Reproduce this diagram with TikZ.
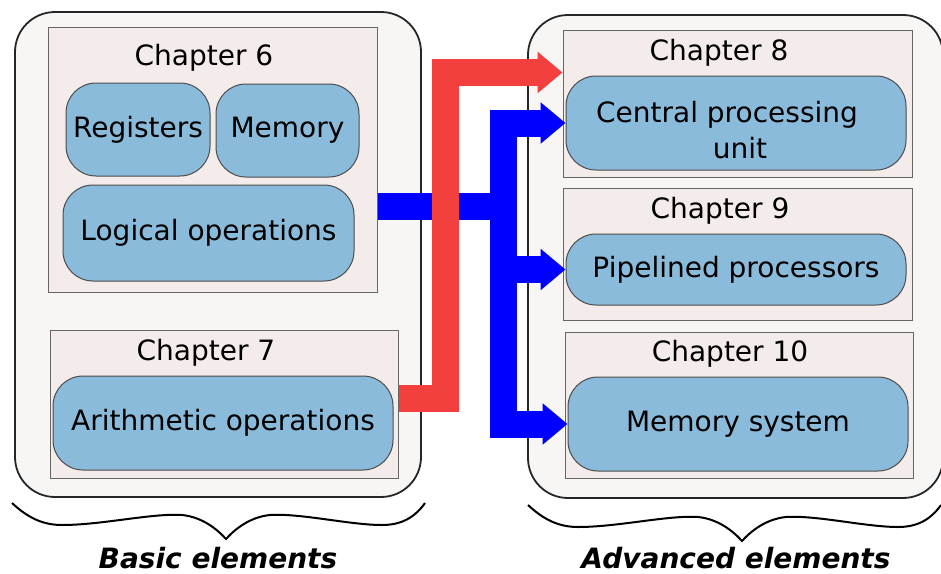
\documentclass[tikz,border=0pt]{standalone}
\usepackage{fontspec}
\setmainfont{DejaVu Sans}
\usetikzlibrary{arrows.meta}
\definecolor{outerfill}{HTML}{F7F6F5}
\definecolor{chapfill}{HTML}{F4ECEB}
\definecolor{topicblue}{HTML}{8BBBDA}
\definecolor{linkred}{HTML}{F43F3F}
\definecolor{linkblue}{HTML}{0000FF}
\tikzset{
  boxsize/.style 2 args={minimum width={(#1)*0.5pt}, minimum height={(#2)*0.5pt}},
  outerbox/.style={draw=black!85, line width=0.9pt, fill=outerfill,
    rounded corners=20pt, inner sep=0pt},
  chapbox/.style={draw=black!60, line width=0.5pt, fill=chapfill, inner sep=0pt},
  topic/.style={draw=black!70, line width=0.5pt, fill=topicblue,
    rounded corners=15pt, inner sep=0pt, align=center,
    font=\fontsize{14}{18}\selectfont},
  chaplabel/.style={anchor=base, inner sep=0pt, font=\fontsize{14}{18}\selectfont},
  grouplabel/.style={anchor=base, inner sep=0pt,
    font=\fontsize{14}{18}\selectfont\bfseries\itshape},
  redlink/.style={draw=linkred, line width=13.5pt,
    -{Triangle[length=12.5pt,width=20pt]}},
  bluebar/.style={draw=linkblue, line width=13.5pt},
  bluelink/.style={bluebar, -{Triangle[length=12.5pt,width=20pt]}},
  curlybrace/.pic={
    \draw[line width=1pt] (0,0) .. controls (15,14) and (30,22) .. (50,22)
      .. controls (90,22) and (140,10) .. (170,12)
      .. controls (190,14) and (205,26) .. (214,36)
      .. controls (223,26) and (238,14) .. (258,12)
      .. controls (288,10) and (338,22) .. (370,22)
      .. controls (390,22) and (403,14) .. (413,0);
  },
}

\begin{document}
\begin{tikzpicture}[x=0.5pt,y=-0.5pt]
\useasboundingbox (0,0) rectangle (941,573);
% groups
\node[outerbox, boxsize={406}{485}] (basic) at (218,254.5) {};
\node[outerbox, boxsize={415}{483}] (advanced) at (735.5,256.5) {};
% chapters
\node[chapbox, boxsize={329}{265}] (ch6) at (212.5,159.5) {};
\node[chapbox, boxsize={348}{148}] (ch7) at (224,404) {};
\node[chapbox, boxsize={349}{147}] (ch8) at (737.5,103.5) {};
\node[chapbox, boxsize={349}{132}] (ch9) at (737.5,254) {};
\node[chapbox, boxsize={348}{146}] (ch10) at (739,405) {};
\node[chaplabel] (ch6lbl) at (204,65) {Chapter 6};
\node[chaplabel] (ch7lbl) at (206,360) {Chapter 7};
\node[chaplabel] (ch8lbl) at (719,60) {Chapter 8};
\node[chaplabel] (ch9lbl) at (720,218) {Chapter 9};
\node[chaplabel] (ch10lbl) at (730,361) {Chapter 10};
% topics
\node[topic, boxsize={144}{93}] (reg) at (138,129.5) {Registers};
\node[topic, boxsize={143}{93}] (mem) at (287.5,130.5) {Memory};
\node[topic, boxsize={291}{96}] (logic) at (208.5,233) {Logical operations};
\node[topic, boxsize={340}{94}] (arith) at (223,423) {Arithmetic operations};
\node[topic, boxsize={340}{94}] (cpu) at (736,123)
  {\rule{0pt}{18pt}Central processing\hspace*{9pt}\\\hspace*{4pt}unit};
\node[topic, boxsize={340}{71}] (pipe) at (736,269.5) {Pipelined processors};
\node[topic, boxsize={340}{94}] (memsys) at (738,424) {Memory system};
% links
\coordinate (bluebus) at (503.5,206.5);
\coordinate (redbus) at (445.5,72.5);
\draw[bluebar] ([yshift=-23.5pt]ch6.east) -- (bluebus);
\draw[bluelink, {Triangle[length=12.5pt,width=20pt]}-{Triangle[length=12.5pt,width=20pt]}]
  (cpu.west) -| (bluebus) |- (memsys.west);
\draw[bluelink] (bluebus |- pipe.west) -- (pipe.west);
\draw[redlink] ([yshift=3pt]ch7.east) -| (redbus) -- ([yshift=15.5pt]ch8.west);
% braces
\path pic at (12,503) {curlybrace}
      pic at (528,505) {curlybrace};
\node[grouplabel] (basiclbl) at (218,568) {Basic elements};
\node[grouplabel] (advlbl) at (736,568) {Advanced elements};
\end{tikzpicture}
\end{document}
